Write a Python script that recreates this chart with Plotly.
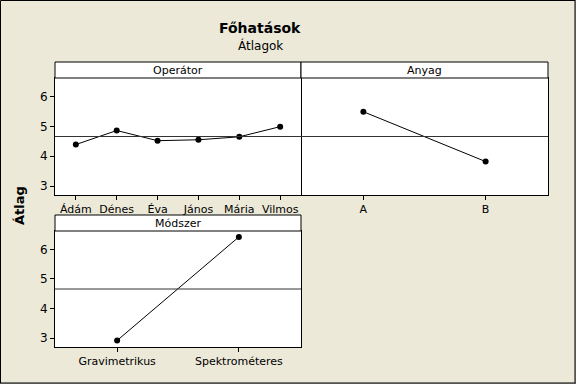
import plotly.graph_objects as go

# ---- data ----
operator_levels = ["Ádám", "Dénes", "Éva", "János", "Mária", "Vilmos"]
operator_means = [4.39, 4.86, 4.52, 4.55, 4.65, 4.99]
anyag_levels = ["A", "B"]
anyag_means = [5.49, 3.82]
modszer_levels = ["Gravimetrikus", "Spektrométeres"]
modszer_means = [2.92, 6.42]
grand_mean = 4.66
y_ticks = [3, 4, 5, 6]

W, H = 576, 384
FONT = "DejaVu Sans"
BG = "#ECE9D8"

def px_x(v):
    return v / W

def px_y(v):
    return 1 - v / H

fig = go.Figure()

panels = [
    ("Operátor", operator_levels, operator_means, "x", "y", 55, 301, 78, 195, 62),
    ("Anyag", anyag_levels, anyag_means, "x2", "y2", 301, 548, 78, 195, 62),
    ("Módszer", modszer_levels, modszer_means, "x3", "y3", 55, 301, 231, 347, 215),
]

shapes = []
annotations = []
for i, (name, levels, means, xa, ya, x0, x1, yt, yb, st) in enumerate(panels):
    fig.add_trace(go.Scatter(
        x=levels, y=means, xaxis=xa, yaxis=ya, mode="lines+markers",
        line=dict(color="black", width=1),
        marker=dict(color="black", size=6),
        showlegend=False, hoverinfo="skip",
    ))
    suffix = "" if i == 0 else str(i + 1)
    xkey = "xaxis" + suffix
    ykey = "yaxis" + suffix
    n = len(levels)
    fig.layout[xkey] = dict(
        domain=[px_x(x0), px_x(x1)], anchor=ya, type="category",
        range=[-0.51, n - 0.49], showgrid=False, zeroline=False,
        showline=True, linecolor="black", linewidth=1, mirror=True,
        ticks="outside", ticklen=4, tickcolor="black",
        tickfont=dict(family=FONT, size=11, color="black"),
        fixedrange=True,
    )
    is_right = name == "Anyag"
    ycfg = dict(
        domain=[px_y(yb), px_y(yt)], anchor=xa,
        range=[2.7, 6.62], showgrid=False, zeroline=False,
        showline=True, linecolor="black", linewidth=1,
        tickvals=y_ticks, fixedrange=True,
        tickfont=dict(family=FONT, size=12, color="black"),
    )
    if is_right:
        ycfg.update(side="right", mirror=False, ticks="", showticklabels=False)
    else:
        ycfg.update(mirror=True, ticks="outside", ticklen=4, tickcolor="black",
                    showticklabels=True)
    fig.layout[ykey] = ycfg
    shapes.append(dict(type="line", xref=xa + " domain", yref=ya,
                       x0=0, x1=1, y0=grand_mean, y1=grand_mean,
                       line=dict(color="#333333", width=1)))
    shapes.append(dict(type="rect", xref="paper", yref="paper",
                       x0=px_x(x0), x1=px_x(x1), y0=px_y(yt), y1=px_y(st),
                       fillcolor="white", line=dict(color="black", width=1),
                       layer="above"))
    annotations.append(dict(text=name, xref="paper", yref="paper",
                            x=(px_x(x0) + px_x(x1)) / 2, y=(px_y(yt) + px_y(st)) / 2,
                            showarrow=False, xanchor="center", yanchor="middle",
                            font=dict(family=FONT, size=11, color="black")))

shapes.append(dict(type="rect", xref="paper", yref="paper",
                   x0=0.5 / W, x1=1 - 1.0 / W, y0=1.0 / H, y1=1 - 0.5 / H,
                   line=dict(color="black", width=1), layer="above"))
shapes.append(dict(type="line", xref="paper", yref="paper",
                   x0=1 - 0.5 / W, x1=1 - 0.5 / W, y0=0, y1=1,
                   line=dict(color="#555555", width=1)))
shapes.append(dict(type="line", xref="paper", yref="paper",
                   x0=0, x1=1, y0=0.5 / H, y1=0.5 / H,
                   line=dict(color="#555555", width=1)))

annotations += [
    dict(text="<b>Főhatások</b>", xref="paper", yref="paper", x=px_x(260), y=px_y(28),
         showarrow=False, xanchor="center", yanchor="middle",
         font=dict(family=FONT, size=14, color="black")),
    dict(text="Átlagok", xref="paper", yref="paper", x=px_x(260), y=px_y(45),
         showarrow=False, xanchor="center", yanchor="middle",
         font=dict(family=FONT, size=12, color="black")),
    dict(text="<b>Átlag</b>", xref="paper", yref="paper", x=px_x(19), y=px_y(206),
         showarrow=False, xanchor="center", yanchor="middle", textangle=-90,
         font=dict(family=FONT, size=13, color="black")),
]

fig.update_layout(
    width=W, height=H,
    margin=dict(l=0, r=0, t=0, b=0),
    paper_bgcolor=BG, plot_bgcolor="white",
    shapes=shapes, annotations=annotations,
    showlegend=False,
)

fig.write_html("out.html", config={"displayModeBar": False},
               post_script="document.body.style.margin='0';document.body.style.overflow='hidden';")
